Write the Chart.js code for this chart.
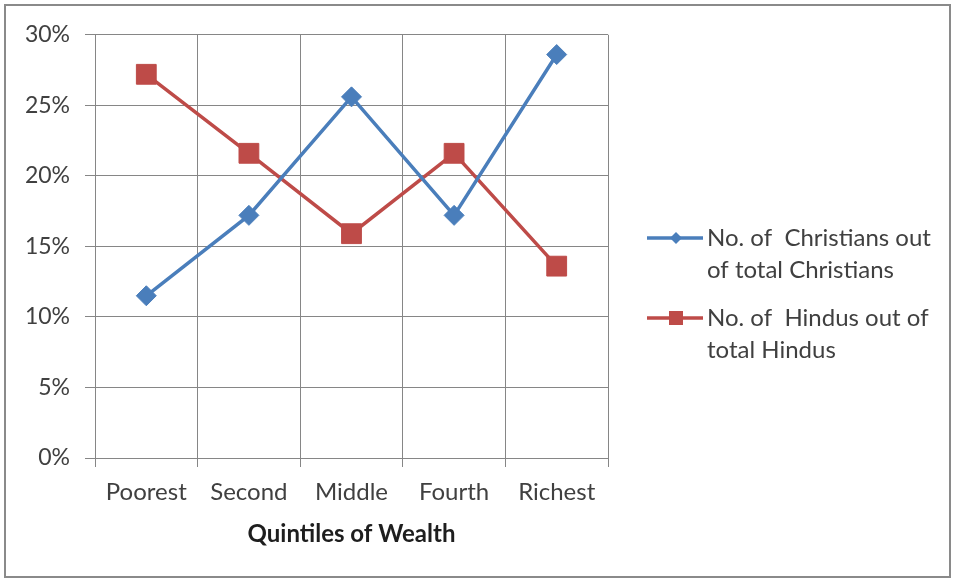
<!DOCTYPE html>
<html>
<head>
<meta charset="utf-8">
<script src="https://cdn.jsdelivr.net/npm/chart.js@4.4.1/dist/chart.umd.min.js"></script>
<style>
  body { margin: 0; background: #fff; }
  #frame { position: absolute; left: 4px; top: 4px; width: 943px; height: 570px; border: 2px solid #8a8a8a; background: #fff; }
  canvas { display: block; }
</style>
</head>
<body>
<div id="frame"><canvas id="wealth-chart" width="943" height="570"></canvas></div>
<script>
const quintiles = ["Poorest", "Second", "Middle", "Fourth", "Richest"];
const christianShare = [11.5, 17.2, 25.6, 17.2, 28.6];
const hinduShare = [27.2, 21.6, 15.9, 21.6, 13.6];
const percentTicks = [0, 5, 10, 15, 20, 25, 30];
const seriesNames = [
  ["No. of  Christians out", "of total Christians"],
  ["No. of  Hindus out of", "total Hindus"]
];

const BLUE = "#4a7ebb";
const RED = "#be4b48";
const GRID = "#868686";
const TEXT = "#404040";

// legend swatch: a short line with the series marker on it
function swatch(color, marker) {
  const c = document.createElement("canvas");
  c.width = 87;
  c.height = 24;
  const ctx = c.getContext("2d");
  ctx.strokeStyle = color;
  ctx.fillStyle = color;
  ctx.lineWidth = 3.5;
  ctx.beginPath();
  ctx.moveTo(31, 12);
  ctx.lineTo(87, 12);
  ctx.stroke();
  ctx.beginPath();
  if (marker === "diamond") {
    ctx.moveTo(54, 12);
    ctx.lineTo(60, 6);
    ctx.lineTo(66, 12);
    ctx.lineTo(60, 18);
    ctx.closePath();
  } else {
    ctx.rect(53, 5, 14, 14);
  }
  ctx.fill();
  return c;
}
const swatches = [swatch(BLUE, "diamond"), swatch(RED, "square")];

// fixed legend width so the plot keeps its right edge; nudge the legend block up a little
const legendFrame = {
  id: "legendFrame",
  beforeLayout(chart) {
    const legend = chart.legend;
    if (legend && !legend._widthPatched) {
      const fit = legend.fit;
      legend.fit = function () {
        fit.call(this);
        this.width = 341;
      };
      legend._widthPatched = true;
    }
  },
  afterLayout(chart) {
    chart.legend.top -= 7;
    chart.legend.bottom -= 7;
  }
};

new Chart(document.getElementById("wealth-chart"), {
  type: "line",
  data: {
    labels: quintiles,
    datasets: [
      {
        label: seriesNames[0].join(" "),
        data: christianShare,
        borderColor: BLUE,
        backgroundColor: BLUE,
        borderWidth: 3.5,
        pointStyle: "rectRot",
        pointRadius: 10,
        pointHoverRadius: 10,
        pointBorderWidth: 1,
        tension: 0
      },
      {
        label: seriesNames[1].join(" "),
        data: hinduShare,
        borderColor: RED,
        backgroundColor: RED,
        borderWidth: 3.5,
        pointStyle: "rect",
        pointRadius: 14,
        pointHoverRadius: 14,
        pointBorderWidth: 1,
        tension: 0
      }
    ]
  },
  options: {
    responsive: false,
    animation: false,
    layout: { padding: { top: 28, left: 0, right: 0, bottom: 0 } },
    plugins: {
      tooltip: { enabled: false },
      legend: {
        position: "right",
        labels: {
          usePointStyle: true,
          pointStyleWidth: 71,
          padding: 16,
          color: TEXT,
          font: { family: "Lato", size: 24, lineHeight: 32 / 24 },
          generateLabels: chart => chart.data.datasets.map((ds, i) => ({
            text: seriesNames[i],
            fillStyle: ds.borderColor,
            strokeStyle: ds.borderColor,
            lineWidth: 0,
            pointStyle: swatches[i],
            fontColor: TEXT,
            datasetIndex: i
          }))
        }
      }
    },
    scales: {
      x: {
        offset: true,
        grid: { offset: true, color: GRID, tickLength: 9 },
        border: { color: GRID },
        ticks: {
          color: TEXT,
          maxRotation: 0,
          autoSkip: false,
          padding: 11,
          font: { family: "Lato", size: 24 }
        },
        title: {
          display: true,
          text: "Quintiles of Wealth",
          color: "#1e1e1e",
          font: { family: "Lato", size: 24, weight: "bold" },
          padding: { top: 0, bottom: 27 }
        },
        afterFit: scale => { scale.height = 118; }
      },
      y: {
        min: 0,
        max: 30,
        afterBuildTicks: scale => {
          scale.ticks = percentTicks.map(v => ({ value: v }));
        },
        grid: { color: GRID, tickLength: 10 },
        border: { color: GRID },
        ticks: {
          color: TEXT,
          padding: 15,
          font: { family: "Lato", size: 23 },
          callback: v => v + "%"
        },
        afterFit: scale => { scale.width = 89; }
      }
    }
  },
  plugins: [legendFrame]
});
</script>
</body>
</html>
